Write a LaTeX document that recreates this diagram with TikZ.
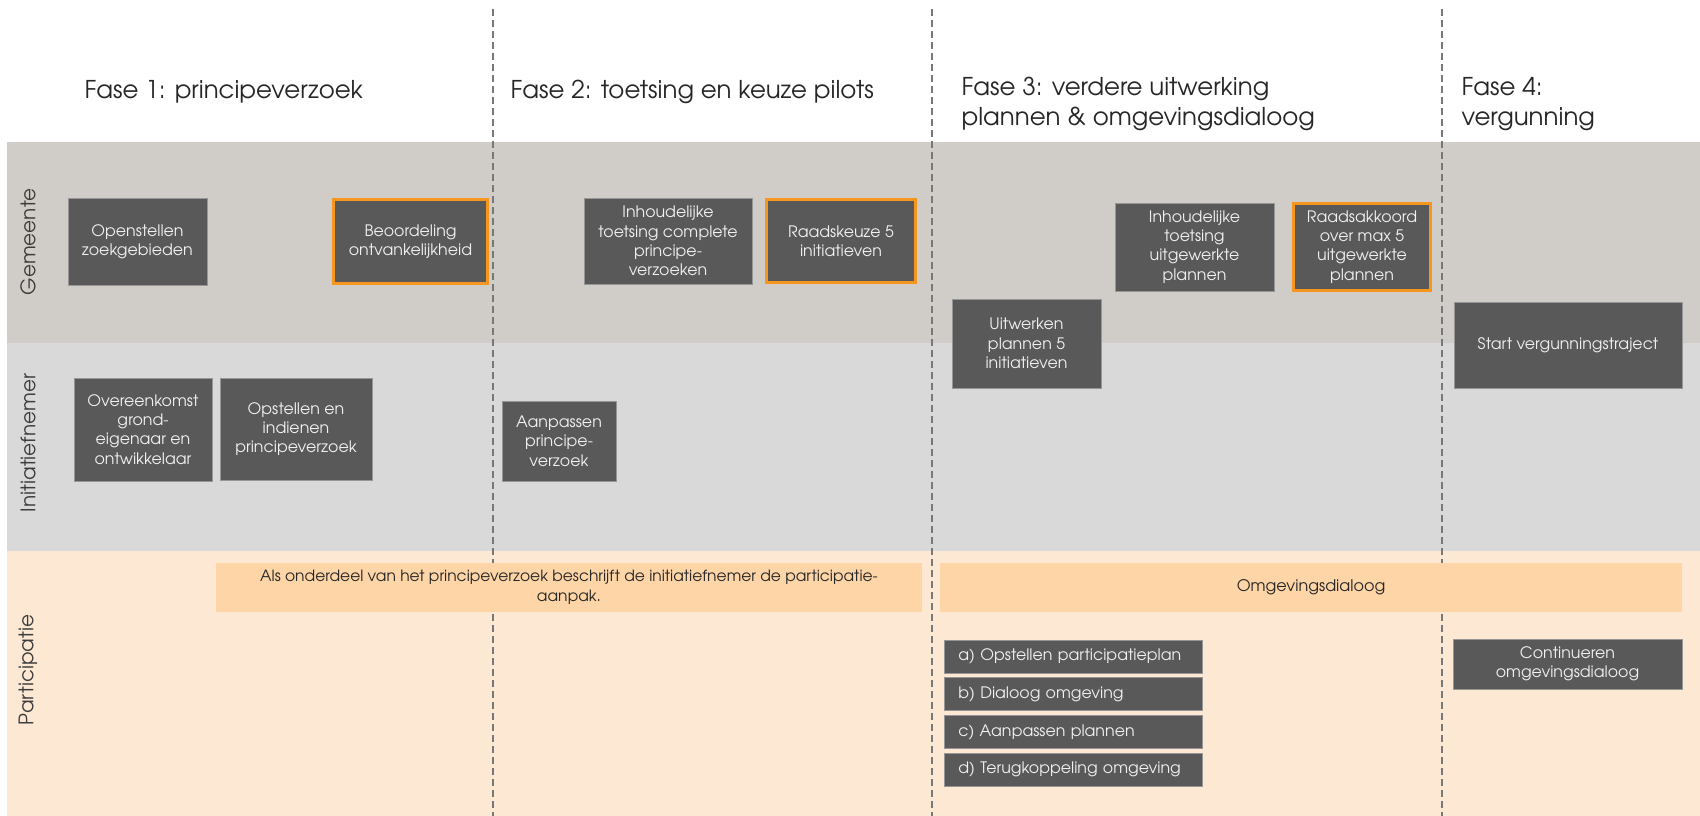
\documentclass[tikz,border=0pt]{standalone}
\usepackage{fontspec}
\setmainfont{texgyreadventor}[Extension=.otf,UprightFont=*-regular,BoldFont=*-bold,ItalicFont=*-italic,BoldItalicFont=*-bolditalic]
\usetikzlibrary{positioning}
\definecolor{lanegem}{RGB}{208,205,200}
\definecolor{laneini}{RGB}{217,217,217}
\definecolor{lanepar}{RGB}{253,233,211}
\definecolor{barfill}{RGB}{254,213,166}
\definecolor{boxfill}{RGB}{89,89,89}
\definecolor{boxline}{RGB}{150,150,150}
\definecolor{keyline}{RGB}{247,150,30}
\definecolor{sepline}{RGB}{120,120,120}
\definecolor{txtdark}{RGB}{38,38,38}

\begin{document}
\begin{tikzpicture}[x=1pt, y=-1pt,
      box/.style={draw=boxline, line width=0.8pt, fill=boxfill, text=white!94!black, align=center, inner sep=0pt, font=\fontsize{15.8}{19.3}\selectfont},
      keybox/.style={box, draw=keyline, line width=3pt},
      itembox/.style={box, anchor=west, align=left, inner xsep=14pt, text width=230pt, minimum height=33pt},
      bar/.style={fill=barfill, text=txtdark, align=center, inner sep=0pt, font=\fontsize{15.5}{20}\selectfont},
      phase/.style={anchor=west, align=left, text=txtdark, font=\fontsize{24.5}{30}\selectfont},
      lanelabel/.style={rotate=90, text=txtdark!90, font=\fontsize{20}{24}\selectfont},
      sep/.style={draw=sepline, line width=1.8pt, dash pattern=on 7pt off 4pt}
    ]
    \useasboundingbox (0,0) rectangle (1700,816);

    % Lanes
    \fill[lanegem] (7,142) rectangle (1700,343);
    \fill[laneini] (7,343) rectangle (1700,551);
    \fill[lanepar] (7,551) rectangle (1700,816);
    \node[lanelabel] (gemeente) at (28,242) {Gemeente};
    \node[lanelabel] (initiatiefnemer) at (28,443) {Initiatiefnemer};
    \node[lanelabel] (participatie) at (28,670) {Participatie};

    % Phase separators
    \draw[sep] (493,9) -- (493,816);
    \draw[sep] (932,9) -- (932,816);
    \draw[sep] (1442,9) -- (1442,816);

    % Phase titles
    \node[phase] (fase1) at (81,92) {Fase 1: principeverzoek};
    \node[phase] (fase2) at (507,92) {Fase 2: toetsing en keuze pilots};
    \node[phase] (fase3) at (958,104) {Fase 3: verdere uitwerking\\plannen \& omgevingsdialoog};
    \node[phase] (fase4) at (1458,104) {Fase 4:\\vergunning};

    % Gemeente
    \node[box, minimum width=139pt, minimum height=87pt] (openstellen) at (137.5,241.5) {Openstellen\\zoekgebieden};
    \node[keybox, minimum width=154pt, minimum height=84pt] (beoordeling) at (410.5,241.5) {Beoordeling\\ontvankelijkheid};
    \node[box, minimum width=168pt, minimum height=86pt] (toetsing) at (668,241) {Inhoudelijke\\toetsing complete\\principe-\\verzoeken};
    \node[keybox, minimum width=149pt, minimum height=83pt] (raadskeuze) at (841,241) {Raadskeuze 5\\initiatieven};
    \node[box, minimum width=159pt, minimum height=88pt] (toetsingplan) at (1194.5,247) {Inhoudelijke\\toetsing\\uitgewerkte\\plannen};
    \node[keybox, minimum width=137pt, minimum height=87pt] (raadsakkoord) at (1362,247) {Raadsakkoord\\over max 5\\uitgewerkte\\plannen};
    \node[box, minimum width=149pt, minimum height=89pt] (uitwerken) at (1026.5,343.5) {Uitwerken\\plannen 5\\initiatieven};
    \node[box, minimum width=228pt, minimum height=86pt] (vergunning) at (1568,345) {Start vergunningstraject};

    % Initiatiefnemer
    \node[box, minimum width=138pt, minimum height=103pt] (overeenkomst) at (143,429.5) {Overeenkomst\\grond-\\eigenaar en\\ontwikkelaar};
    \node[box, minimum width=152pt, minimum height=102pt] (indienen) at (296,429) {Opstellen en\\indienen\\principeverzoek};
    \node[box, minimum width=114pt, minimum height=80pt] (aanpassen) at (559,441) {Aanpassen\\principe-\\verzoek};

    % Participatie
    \node[bar, minimum width=706pt, minimum height=49pt] (aanpak) at (569,587.5) {Als onderdeel van het principeverzoek beschrijft de initiatiefnemer de participatie-\\aanpak.};
    \node[bar, minimum width=742pt, minimum height=49pt, font=\fontsize{16}{20}\selectfont] (dialoog) at (1311,587.5) {Omgevingsdialoog};
    \node[itembox] (plan) at (944,656.5) {a) Opstellen participatieplan};
    \node[itembox] (omgeving) at (944,694) {b) Dialoog omgeving};
    \node[itembox] (plannen) at (944,732) {c) Aanpassen plannen};
    \node[itembox] (terug) at (944,769.5) {d) Terugkoppeling omgeving};
    \node[box, minimum width=229pt, minimum height=50pt] (continueren) at (1567.5,664) {Continueren\\omgevingsdialoog};
  \end{tikzpicture}
\end{document}
